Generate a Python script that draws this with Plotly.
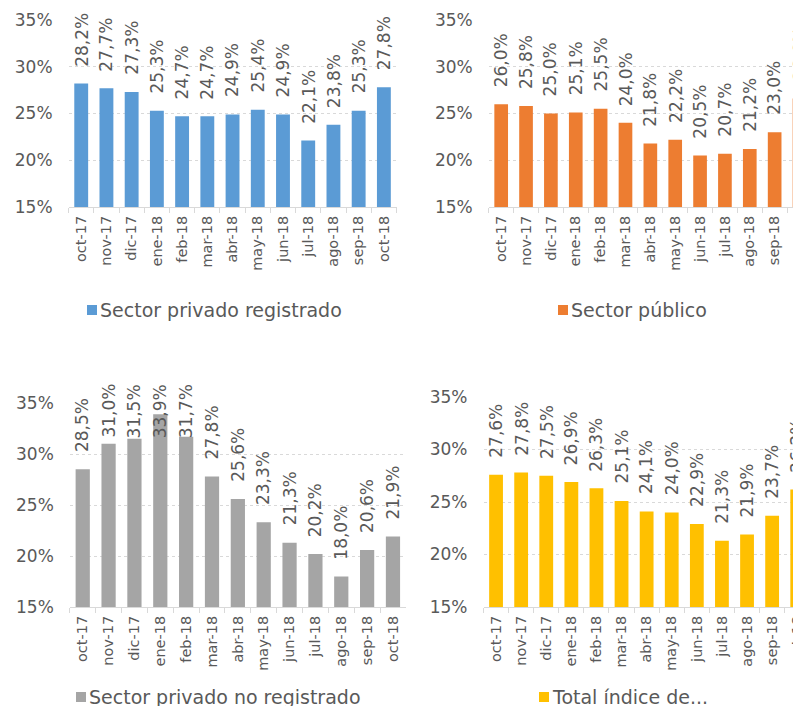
import plotly.graph_objects as go

# The page body has an 8px margin, so the figure starts 8px in from the window edge.
OFF = 8
W, H = 801 - OFF, 706 - OFF

months = ["oct-17", "nov-17", "dic-17", "ene-18", "feb-18", "mar-18", "abr-18",
          "may-18", "jun-18", "jul-18", "ago-18", "sep-18", "oct-18"]

privado_registrado = [28.2, 27.7, 27.3, 25.3, 24.7, 24.7, 24.9, 25.4, 24.9, 22.1, 23.8, 25.3, 27.8]
sector_publico = [26.0, 25.8, 25.0, 25.1, 25.5, 24.0, 21.8, 22.2, 20.5, 20.7, 21.2, 23.0, 26.6]
privado_no_registrado = [28.5, 31.0, 31.5, 33.9, 31.7, 27.8, 25.6, 23.3, 21.3, 20.2, 18.0, 20.6, 21.9]
total_indice = [27.6, 27.8, 27.5, 26.9, 26.3, 25.1, 24.1, 24.0, 22.9, 21.3, 21.9, 23.7, 26.2]

series_names = ["Sector privado registrado", "Sector público",
                "Sector privado no registrado", "Total índice de..."]
series_values = [privado_registrado, sector_publico, privado_no_registrado, total_indice]
colors = ["#5B9BD5", "#ED7D31", "#A5A5A5", "#FFC000"]

FONT = "DejaVu Sans"
TXT = "#595959"
GRID = "#D9D9D9"

# layout in window pixels: plot left/right/top/bottom, category-range end,
# legend square left, legend centre y, label cap pixel
geo = [
    dict(x0=68.6, x1=396.5, y0=20, y1=207, rend=12.5, lx=87, ly=310, cap=6),
    dict(x0=488.75, x1=801, y0=20, y1=207, rend=12.06, lx=558, ly=310, cap=6),
    dict(x0=69.8, x1=405.9, y0=403, y1=607, rend=12.5, lx=76, ly=697, cap=383),
    dict(x0=483.5, x1=801, y0=397, y1=607, rend=12.15, lx=539, ly=697, cap=383),
]

YMIN, YMAX = 15, 35
LABEL_GAP = 16
LABEL_LEN = 54


def px(v):
    return v - OFF


fig = go.Figure()
annotations = []
shapes = []

for i, (name, vals, col, g) in enumerate(zip(series_names, series_values, colors, geo)):
    k = "" if i == 0 else str(i + 1)
    xa, ya = "x" + k, "y" + k
    fig.add_trace(go.Bar(x=months, y=vals, name=name, marker=dict(color=col, line=dict(width=0)),
                         width=0.55, xaxis=xa, yaxis=ya, showlegend=False,
                         hoverinfo="x+y"))
    xr = [-0.5, g["rend"]]
    xdom = [px(g["x0"]) / W, min(px(g["x1"]) / W, 1.0)]
    ydom = [1 - px(g["y1"]) / H, 1 - px(g["y0"]) / H]
    fig.update_layout(**{
        "xaxis" + k: dict(domain=xdom, range=xr, anchor=ya, type="category", automargin=False,
                          showline=True, linecolor=GRID, linewidth=1,
                          ticks="outside", tickson="boundaries", ticklen=5, tickcolor=GRID,
                          tickangle=-90, tickfont=dict(family=FONT, size=14.5, color=TXT),
                          showgrid=False, ticklabelstandoff=2, fixedrange=True),
        "yaxis" + k: dict(domain=ydom, range=[YMIN, YMAX], anchor=xa, tick0=15, dtick=5,
                          automargin=False,
                          ticksuffix="%", showgrid=True, gridcolor=GRID, griddash="dot",
                          gridwidth=1, zeroline=False, showline=False, ticks="",
                          tickfont=dict(family=FONT, size=17, color=TXT),
                          ticklabelstandoff=15, fixedrange=True),
    })
    ppu = (g["y1"] - g["y0"]) / (YMAX - YMIN)
    cap_shift = g["y0"] - g["cap"]  # pixels above the top of the value range
    for m, v in zip(months, vals):
        label = f"{v:.1f}".replace(".", ",") + "%"
        top_px = (v - YMAX) * ppu + LABEL_GAP + LABEL_LEN  # pixels above the range top
        if top_px > cap_shift:
            annotations.append(dict(x=m, y=YMAX, xref=xa, yref=ya, text=label,
                                    textangle=-90, showarrow=False, yanchor="top",
                                    xanchor="center", yshift=cap_shift, borderpad=0,
                                    font=dict(family=FONT, size=17, color=TXT)))
        else:
            annotations.append(dict(x=m, y=v, xref=xa, yref=ya, text=label,
                                    textangle=-90, showarrow=False, yanchor="bottom",
                                    xanchor="center", yshift=LABEL_GAP, borderpad=0,
                                    font=dict(family=FONT, size=17, color=TXT)))
    # legend: square + text
    sq = 10
    shapes.append(dict(type="rect", xref="paper", yref="paper",
                       x0=px(g["lx"]) / W, x1=px(g["lx"] + sq) / W,
                       y0=1 - px(g["ly"] + sq / 2) / H, y1=1 - px(g["ly"] - sq / 2) / H,
                       fillcolor=col, line=dict(width=0)))
    annotations.append(dict(x=px(g["lx"] + sq + 2) / W, y=1 - px(g["ly"]) / H,
                            xref="paper", yref="paper",
                            text=name, showarrow=False, xanchor="left", yanchor="middle",
                            borderpad=0,
                            font=dict(family=FONT, size=19, color=TXT)))

fig.update_layout(width=W, height=H, margin=dict(l=0, r=0, t=0, b=0, autoexpand=False),
                  paper_bgcolor="white", plot_bgcolor="white",
                  annotations=annotations, shapes=shapes, bargap=0.45)

fig.write_html("out.html")
